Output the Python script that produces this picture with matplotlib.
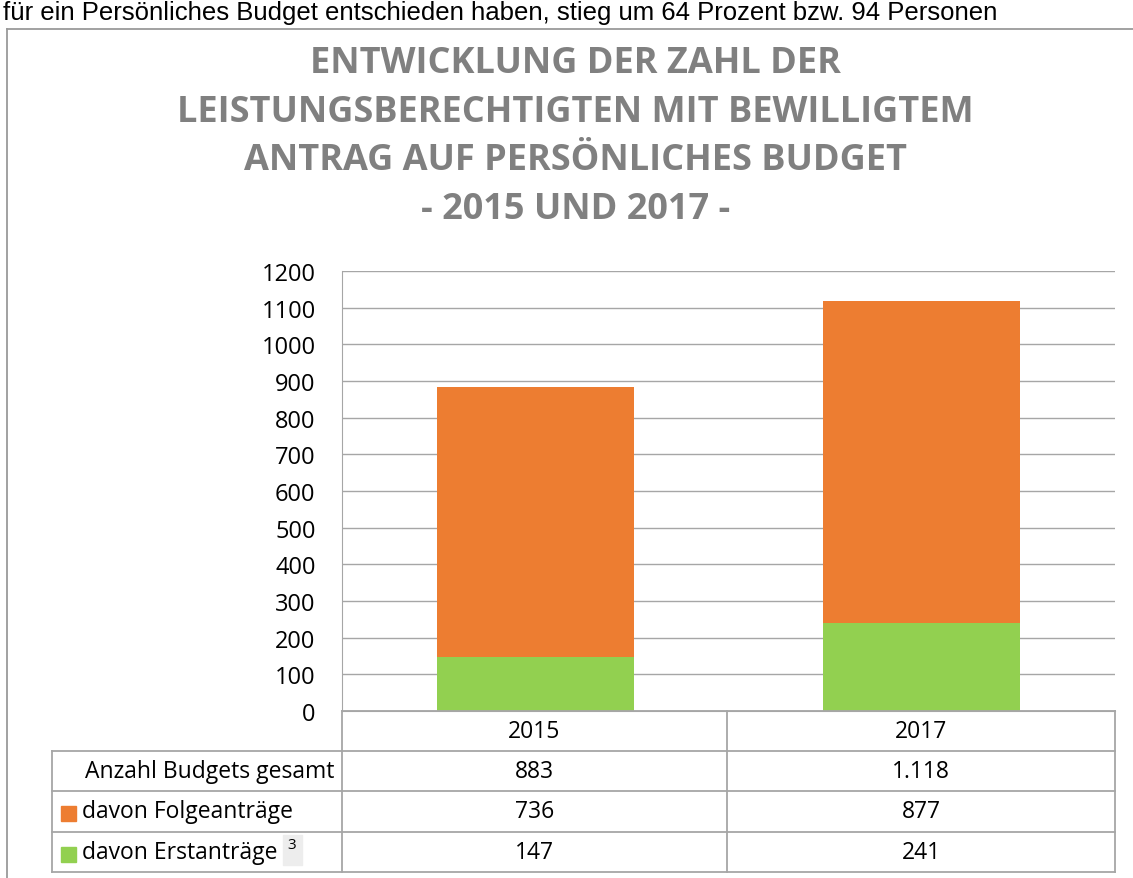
import matplotlib.pyplot as plt
from matplotlib.lines import Line2D
from matplotlib.patches import Rectangle

years = ["2015", "2017"]
erst = [147, 241]
folge = [736, 877]
gesamt = [883, 1118]
row_labels = ["Anzahl Budgets gesamt", "davon Folgeanträge", "davon Erstanträge"]
title = "ENTWICKLUNG DER ZAHL DER\nLEISTUNGSBERECHTIGTEN MIT BEWILLIGTEM\nANTRAG AUF PERSÖNLICHES BUDGET\n- 2015 UND 2017 -"
top_text = "für ein Persönliches Budget entschieden haben, stieg um 64 Prozent bzw. 94 Personen"

orange = "#ED7D31"
green = "#92D050"
grid_c = "#A6A6A6"
W, H = 1133, 879

plt.rcParams["font.family"] = ["Open Sans", "DejaVu Sans"]
fig = plt.figure(figsize=(W / 100, H / 100), dpi=100)

def fx(px):
    return px / W

def fy(py):
    return 1 - py / H

# axes in pixel coords of the reference
x0, x1, ytop, ybot = 342, 1115, 272, 712
ax = fig.add_axes([fx(x0), fy(ybot), fx(x1 - x0), (ybot - ytop) / H])
xs = [0, 1]
ax.bar(xs, erst, width=0.51, color=green, zorder=3)
ax.bar(xs, folge, width=0.51, bottom=erst, color=orange, zorder=3)
ax.set_xlim(-0.5, 1.5)
ax.set_ylim(0, 1200)
ax.set_yticks(range(0, 1201, 100))
ax.yaxis.grid(True, color=grid_c, lw=1, zorder=0)
ax.set_xticks([])
ax.tick_params(axis="y", length=0, pad=19, labelsize=17, labelcolor="#000000")
for s in ["top", "right"]:
    ax.spines[s].set_visible(False)
ax.spines["left"].set_color(grid_c)
ax.spines["bottom"].set_color(grid_c)

# table lines
def hline(y, xa, xb):
    fig.add_artist(Line2D([fx(xa), fx(xb)], [fy(y), fy(y)], color=grid_c, lw=1.3))

def vline(x, ya, yb):
    fig.add_artist(Line2D([fx(x), fx(x)], [fy(ya), fy(yb)], color=grid_c, lw=1.3))

rows = [712, 752, 792, 833, 873]
xm = 727
hline(712, x0, x1)
for y in rows[1:]:
    hline(y, 52, x1)
vline(52, 752, 873)
vline(x0, 712, 873)
vline(xm, 712, 873)
vline(x1, 712, 873)

cols = [(x0 + xm) / 2, (xm + x1) / 2]
def fmt(v):
    return f"{v:,}".replace(",", ".")

fs = 16.5
for i, yr in enumerate(years):
    c = cols[i]
    fig.text(fx(c), fy((rows[0] + rows[1]) / 2), yr, ha="center", va="center", fontsize=fs)
    fig.text(fx(c), fy((rows[1] + rows[2]) / 2), fmt(gesamt[i]), ha="center", va="center", fontsize=fs)
    fig.text(fx(c), fy((rows[2] + rows[3]) / 2), fmt(folge[i]), ha="center", va="center", fontsize=fs)
    fig.text(fx(c), fy((rows[3] + rows[4]) / 2), fmt(erst[i]), ha="center", va="center", fontsize=fs)

fig.text(fx(334), fy((rows[1] + rows[2]) / 2), row_labels[0], ha="right", va="center", fontsize=fs)
fig.text(fx(82), fy((rows[2] + rows[3]) / 2), row_labels[1], ha="left", va="center", fontsize=fs)
fig.text(fx(82), fy((rows[3] + rows[4]) / 2), row_labels[2], ha="left", va="center", fontsize=fs)
fig.add_artist(Rectangle((fx(61), fy(822)), fx(15), 15 / H, color=orange))
fig.add_artist(Rectangle((fx(61), fy(863)), fx(15), 15 / H, color=green))
fig.add_artist(Rectangle((fx(283), fy(866)), fx(19), 30 / H, color="#EDEDED"))
fig.text(fx(292), fy(846), "3", ha="center", va="center", fontsize=11)

# outer frame
fig.add_artist(Line2D([fx(7), fx(7)], [fy(30), 0], color="#9A9A9A", lw=1.3))
fig.add_artist(Line2D([fx(7), 1], [fy(30), fy(30)], color="#9A9A9A", lw=1.3))

fig.text(0.508, fy(137), title, ha="center", va="center", fontsize=26, fontweight="bold",
         color="#808080", linespacing=1.47)
fig.text(0.003, fy(13), top_text, ha="left", va="center", fontsize=18.5,
         family=["Liberation Sans", "DejaVu Sans"])

fig.savefig("out.png", dpi=100)
